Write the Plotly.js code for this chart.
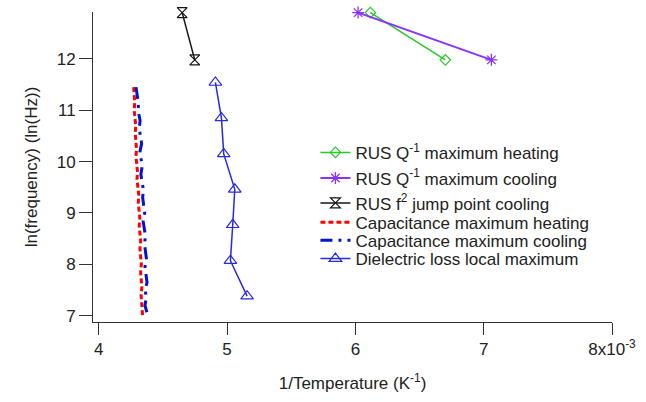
<!DOCTYPE html>
<html>
<head>
<meta charset="utf-8">
<script src="https://cdn.plot.ly/plotly-3.0.1.min.js"></script>
<style>html,body{margin:0;padding:0;background:#fff;}#chart{width:646px;height:402px;}</style>
</head>
<body>
<div id="chart"></div>
<script>
// RUS Q^-1 maximum heating
const rusHeatX = [6.117, 6.701];
const rusHeatY = [12.90, 11.98];
// RUS Q^-1 maximum cooling
const rusCoolX = [6.021, 7.060];
const rusCoolY = [12.90, 11.98];
// RUS f^2 jump point cooling
const rusJumpX = [4.650, 4.748];
const rusJumpY = [12.90, 11.98];
// Capacitance maximum heating
const capHeatY = [11.45, 11.30, 11.15, 11.00, 10.85, 10.70, 10.55, 10.40, 10.25, 10.10, 9.95, 9.80, 9.65, 9.50, 9.35, 9.20, 9.05, 8.90, 8.75, 8.60, 8.45, 8.30, 8.15, 8.00, 7.85, 7.70, 7.55, 7.40, 7.25, 7.10, 6.98];
const capHeatX = [4.272, 4.275, 4.280, 4.276, 4.283, 4.288, 4.284, 4.290, 4.294, 4.290, 4.296, 4.302, 4.298, 4.306, 4.312, 4.308, 4.316, 4.320, 4.315, 4.321, 4.327, 4.321, 4.327, 4.332, 4.326, 4.331, 4.336, 4.330, 4.335, 4.340, 4.342];
// Capacitance maximum cooling
const capCoolY = [11.45, 11.35, 11.25, 11.10, 10.95, 10.80, 10.65, 10.50, 10.35, 10.20, 10.05, 9.90, 9.75, 9.60, 9.45, 9.30, 9.15, 9.00, 8.85, 8.70, 8.55, 8.40, 8.25, 8.10, 7.95, 7.80, 7.65, 7.50, 7.35, 7.20, 7.10, 7.00];
const capCoolX = [4.290, 4.297, 4.302, 4.308, 4.310, 4.322, 4.316, 4.324, 4.334, 4.321, 4.330, 4.338, 4.328, 4.340, 4.348, 4.342, 4.352, 4.358, 4.345, 4.354, 4.364, 4.356, 4.364, 4.372, 4.360, 4.366, 4.376, 4.362, 4.370, 4.360, 4.374, 4.382];
// Dielectric loss local maximum
const dielX = [4.909, 4.956, 4.974, 5.060, 5.044, 5.026, 5.156];
const dielY = [11.54, 10.85, 10.15, 9.46, 8.77, 8.07, 7.38];

const xTickVals = [4, 5, 6, 7, 8];
const xTickText = ['4', '5', '6', '7', '8x10<sup>-3</sup>'];
const yTickVals = [7, 8, 9, 10, 11, 12];

const FONT = 'Liberation Sans, Arial, sans-serif';

const traces = [
  {x: rusHeatX, y: rusHeatY, name: 'RUS Q<sup>-1</sup> maximum heating', mode: 'lines+markers', legend: 'legend',
   line: {color: 'rgb(40,200,40)', width: 1.5},
   marker: {symbol: 'diamond-open', size: 8, color: 'rgb(40,200,40)', line: {width: 1.2, color: 'rgb(40,200,40)'}}},
  {x: rusCoolX, y: rusCoolY, name: 'RUS Q<sup>-1</sup> maximum cooling', mode: 'lines+markers', legend: 'legend2',
   line: {color: 'rgb(140,50,255)', width: 2},
   marker: {symbol: 'asterisk-open', size: 10, color: 'rgb(140,50,255)', line: {width: 1.3, color: 'rgb(140,50,255)'}}},
  {x: rusJumpX, y: rusJumpY, name: 'RUS f<sup>2</sup> jump point cooling', mode: 'lines+markers', legend: 'legend3',
   line: {color: 'rgb(20,20,20)', width: 1.5},
   marker: {symbol: 'hourglass-open', size: 10, color: 'rgb(20,20,20)', line: {width: 1.2, color: 'rgb(20,20,20)'}}},
  {x: capHeatX, y: capHeatY, name: 'Capacitance maximum heating', mode: 'lines', legend: 'legend4',
   line: {color: 'rgb(255,0,0)', width: 3, dash: '5px,3px'}},
  {x: capCoolX, y: capCoolY, name: 'Capacitance maximum cooling', mode: 'lines', legend: 'legend5',
   line: {color: 'rgb(0,20,210)', width: 3, dash: '12px,6px,3px,6px'}},
  {x: dielX, y: dielY, name: 'Dielectric loss local maximum', mode: 'lines+markers', legend: 'legend6',
   line: {color: 'rgb(40,40,230)', width: 1.5},
   marker: {symbol: 'triangle-up-open', size: 11, color: 'rgb(40,40,230)', line: {width: 1.2, color: 'rgb(40,40,230)'}}}
];
traces.forEach(t => { t.cliponaxis = false; });

function leg(y) {
  return {x: 0.4286, xanchor: 'left', y: y, yanchor: 'middle', bgcolor: 'rgba(0,0,0,0)',
          borderwidth: 0, font: {family: FONT, size: 17, color: '#222'}, itemwidth: 30};
}

const layout = {
  width: 646, height: 402,
  margin: {l: 92.5, r: 34.3, t: 11.8, b: 80},
  paper_bgcolor: '#fff', plot_bgcolor: '#fff',
  font: {family: FONT, size: 17, color: '#222'},
  showlegend: true,
  legend: leg(0.5457),
  legend2: leg(0.4632),
  legend3: leg(0.3826),
  legend4: leg(0.3201),
  legend5: leg(0.2621),
  legend6: leg(0.2031),
  xaxis: {
    range: [3.955, 8.0], tickvals: xTickVals, ticktext: xTickText,
    showgrid: false, zeroline: false, showline: true, linecolor: '#333', linewidth: 1,
    ticks: 'outside', ticklen: 12, tickcolor: '#333', tickwidth: 1,
    tickfont: {family: FONT, size: 17, color: '#222'},
    title: {text: '1/Temperature (K<sup>-1</sup>)', font: {family: FONT, size: 17, color: '#222'}, standoff: 18}
  },
  yaxis: {
    range: [6.877, 12.912], tickvals: yTickVals,
    showgrid: false, zeroline: false, showline: true, linecolor: '#333', linewidth: 1,
    ticks: 'outside', ticklen: 13, tickcolor: '#333', tickwidth: 1,
    tickfont: {family: FONT, size: 17, color: '#222'},
    title: {text: 'ln(frequency) (ln(Hz))', font: {family: FONT, size: 17, color: '#222'}, standoff: 14}
  }
};

Plotly.newPlot('chart', traces, layout, {staticPlot: true, displayModeBar: false});
</script>
</body>
</html>
